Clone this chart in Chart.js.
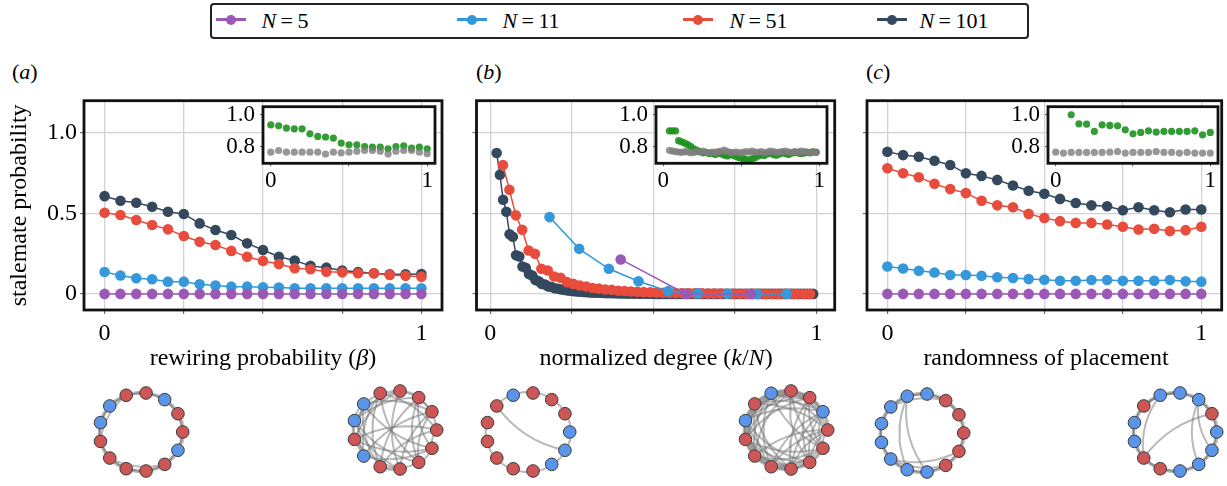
<!DOCTYPE html>
<html>
<head>
<meta charset="utf-8">
<script src="https://cdn.jsdelivr.net/npm/chart.js@4.4.0/dist/chart.umd.min.js"></script>
<style>
body{margin:0;width:1227px;height:486px;overflow:hidden;background:#fff;position:relative;font-family:'Liberation Serif','Times New Roman',serif}
canvas{position:absolute}
.txt{position:absolute;white-space:nowrap;line-height:1;color:#000}
#legend{position:absolute;left:210px;top:3px;width:815px;height:32px;border:2.5px solid #222;border-radius:4px}
</style>
</head>
<body>
<div id="legend"></div>

<div class="txt" style="left:12px;top:61px;font-size:22px">(<i>a</i>)</div>
<div class="txt" style="left:476px;top:61px;font-size:22px">(<i>b</i>)</div>
<div class="txt" style="left:866px;top:61px;font-size:22px">(<i>c</i>)</div>

<canvas id="mainA" width="450" height="285" style="left:0px;top:95px"></canvas>
<canvas id="mainB" width="400" height="285" style="left:440px;top:95px"></canvas>
<canvas id="mainC" width="397" height="285" style="left:830px;top:95px"></canvas>
<canvas id="insetA" width="225" height="95" style="left:215px;top:100px"></canvas>
<canvas id="insetB" width="225" height="95" style="left:608px;top:100px"></canvas>
<canvas id="insetC" width="225" height="95" style="left:1000px;top:100px"></canvas>

<div class="txt" style="left:263px;top:345px;font-size:24px;transform:translateX(-50%)">rewiring probability (<i>β</i>)</div>
<div class="txt" style="left:656px;top:345px;font-size:24px;transform:translateX(-50%)">normalized degree (<i>k</i>/<i>N</i>)</div>
<div class="txt" style="left:1046px;top:345px;font-size:24px;transform:translateX(-50%)">randomness of placement</div>

<canvas id="netAL" width="120" height="110" style="left:81px;top:377px"></canvas>
<canvas id="netAR" width="120" height="110" style="left:335px;top:375px"></canvas>
<canvas id="netBL" width="120" height="110" style="left:468px;top:377px"></canvas>
<canvas id="netBR" width="120" height="110" style="left:726px;top:375px"></canvas>
<canvas id="netCL" width="120" height="110" style="left:862px;top:378px"></canvas>
<canvas id="netCR" width="120" height="110" style="left:1115px;top:377px"></canvas>

<script>
// ---------------- data ----------------
const seriesLabels = ['5', '11', '51', '101'];
const seriesColors = ['#9b59b6', '#3498db', '#e74c3c', '#34495e'];
const insetColors = ['rgba(125,125,125,0.8)', 'rgba(30,145,30,0.9)'];  // gray, green

// (a) rewiring probability
const betaValues = [0, 0.05, 0.1, 0.15, 0.2, 0.25, 0.3, 0.35, 0.4, 0.45, 0.5,
                    0.55, 0.6, 0.65, 0.7, 0.75, 0.8, 0.85, 0.9, 0.95, 1];
const aN5 = [0, 0, 0, 0, 0, 0, 0, 0, 0, 0, 0, 0, 0, 0, 0, 0, 0, 0, 0, 0, 0];
const aN11 = [0.136, 0.114, 0.097, 0.091, 0.076, 0.076, 0.060, 0.052, 0.045, 0.045, 0.041,
              0.039, 0.035, 0.035, 0.035, 0.035, 0.035, 0.035, 0.035, 0.035, 0.035];
const aN51 = [0.504, 0.490, 0.459, 0.428, 0.401, 0.360, 0.324, 0.304, 0.267, 0.231, 0.205,
              0.186, 0.159, 0.153, 0.138, 0.134, 0.128, 0.128, 0.118, 0.112, 0.107];
const aN101 = [0.607, 0.579, 0.566, 0.541, 0.510, 0.496, 0.438, 0.397, 0.366, 0.314, 0.273,
               0.231, 0.207, 0.174, 0.163, 0.145, 0.136, 0.128, 0.122, 0.122, 0.124];
const aInsetGreen = [0.938, 0.932, 0.918, 0.913, 0.913, 0.882, 0.866, 0.862, 0.856, 0.825, 0.814,
                     0.814, 0.804, 0.800, 0.800, 0.790, 0.804, 0.808, 0.794, 0.800, 0.790];
const aInsetGray = [0.769, 0.779, 0.769, 0.769, 0.769, 0.769, 0.769, 0.757, 0.769, 0.765, 0.769,
                    0.775, 0.779, 0.779, 0.775, 0.757, 0.775, 0.779, 0.779, 0.769, 0.759];

// (b) degree k for each network size N
const degN5 = [2, 3, 4];
const bN5 = [0.214, 0, 0];
const degN11 = [2, 3, 4, 5, 6, 7, 8, 9, 10];
const bN11 = [0.477, 0.280, 0.156, 0.079, 0.017, 0.003, 0.001, 0, 0];
const degN51 = [2, 3, 4, 5, 6, 7, 8, 9, 10, 11, 12, 13, 14, 15, 16, 17, 18, 19, 20, 21,
                22, 23, 24, 25, 26, 27, 28, 29, 30, 31, 32, 33, 34, 35, 36, 37, 38, 39, 40, 41,
                42, 43, 44, 45, 46, 47, 48, 49, 50];
const bN51 = [0.800, 0.647, 0.488, 0.398, 0.270, 0.249, 0.156, 0.145, 0.108, 0.100,
              0.073, 0.062, 0.052, 0.046, 0.037, 0.033, 0.027, 0.025, 0.020, 0.018,
              0.015, 0.013, 0.011, 0.010, 0.008, 0.007, 0.006, 0.005, 0.004, 0.004,
              0.003, 0.003, 0.002, 0.002, 0.002, 0.001, 0.001, 0.001, 0.001, 0,
              0, 0, 0, 0, 0, 0, 0, 0, 0];
const degN101 = [2, 3, 4, 5, 6, 7, 8, 9, 10, 11, 12, 13, 14, 15, 16, 17, 18, 19, 20, 21,
                 22, 23, 24, 25, 26, 27, 28, 29, 30, 31, 32, 33, 34, 35, 36, 37, 38, 39, 40, 41,
                 42, 43, 44, 45, 46, 47, 48, 49, 50, 51, 52, 53, 54, 55, 56, 57, 58, 59, 60, 61,
                 62, 63, 64, 65, 66, 67, 68, 69, 70, 71, 72, 73, 74, 75, 76, 77, 78, 79, 80, 81,
                 82, 83, 84, 85, 86, 87, 88, 89, 90, 91, 92, 93, 94, 95, 96, 97, 98, 99, 100];
const bN101 = [0.875, 0.740, 0.585, 0.510, 0.370, 0.355, 0.240, 0.232, 0.170, 0.162,
               0.124, 0.114, 0.087, 0.079, 0.062, 0.058, 0.046, 0.043, 0.035, 0.032,
               0.027, 0.025, 0.021, 0.019, 0.016, 0.015, 0.013, 0.012, 0.010, 0.009,
               0.008, 0.007, 0.007, 0.006, 0.005, 0.005, 0.004, 0.004, 0.003, 0.003,
               0.003, 0.002, 0.002, 0.002, 0.002, 0.001, 0.001, 0.001, 0.001, 0,
               0, 0, 0, 0, 0, 0, 0, 0, 0, 0,
               0, 0, 0, 0, 0, 0, 0, 0, 0, 0,
               0, 0, 0, 0, 0, 0, 0, 0, 0, 0,
               0, 0, 0, 0, 0, 0, 0, 0, 0, 0,
               0, 0, 0, 0, 0, 0, 0, 0, 0];
const bInsetGreen = [0.900, 0.900, 0.900, 0.840, 0.832, 0.825, 0.815, 0.804, 0.790, 0.780,
                     0.772, 0.765, 0.768, 0.760, 0.762, 0.755, 0.765, 0.758, 0.750, 0.745,
                     0.755, 0.748, 0.740, 0.735, 0.730, 0.725, 0.720, 0.728, 0.735, 0.745,
                     0.752, 0.748, 0.758, 0.762, 0.755, 0.750, 0.758, 0.765, 0.760, 0.755,
                     0.762, 0.768, 0.765, 0.760, 0.762, 0.768, 0.765, 0.770, 0.768];
const bInsetGray = [0.780, 0.776, 0.772, 0.770, 0.768, 0.772, 0.770, 0.766, 0.768, 0.772,
                    0.770, 0.775, 0.768, 0.765, 0.770, 0.768, 0.772, 0.775, 0.782, 0.772,
                    0.766, 0.768, 0.770, 0.763, 0.768, 0.772, 0.770, 0.775, 0.770, 0.768,
                    0.772, 0.765, 0.770, 0.775, 0.772, 0.768, 0.770, 0.772, 0.775, 0.770,
                    0.768, 0.772, 0.770, 0.775, 0.772, 0.770, 0.768, 0.772, 0.770];

// (c) randomness of placement
const placementValues = [0, 0.05, 0.1, 0.15, 0.2, 0.25, 0.3, 0.35, 0.4, 0.45, 0.5,
                         0.55, 0.6, 0.65, 0.7, 0.75, 0.8, 0.85, 0.9, 0.95, 1];
const cN5 = [0, 0, 0, 0, 0, 0, 0, 0, 0, 0, 0, 0, 0, 0, 0, 0, 0, 0, 0, 0, 0];
const cN11 = [0.170, 0.158, 0.144, 0.133, 0.117, 0.117, 0.113, 0.103, 0.099, 0.092, 0.088,
              0.082, 0.082, 0.086, 0.086, 0.082, 0.082, 0.082, 0.086, 0.078, 0.076];
const cN51 = [0.780, 0.749, 0.725, 0.684, 0.651, 0.626, 0.579, 0.550, 0.538, 0.497, 0.472,
              0.452, 0.441, 0.441, 0.431, 0.417, 0.400, 0.404, 0.390, 0.396, 0.417];
const cN101 = [0.883, 0.862, 0.852, 0.827, 0.801, 0.749, 0.733, 0.708, 0.673, 0.641, 0.622,
               0.590, 0.565, 0.550, 0.544, 0.520, 0.538, 0.520, 0.507, 0.524, 0.524];
const cInsetGreen = [null, null, 1.000, 0.944, 0.942, 0.897, 0.938, 0.934, 0.932, 0.907, 0.882,
                     0.891, 0.901, 0.893, 0.897, 0.897, 0.897, 0.897, 0.901, 0.876, 0.891];
const cInsetGray = [0.769, 0.763, 0.767, 0.767, 0.767, 0.767, 0.767, 0.769, 0.773, 0.763, 0.767,
                    0.767, 0.767, 0.773, 0.767, 0.767, 0.763, 0.767, 0.763, 0.763, 0.763];

// ticks
const mainYTicks = [0, 0.5, 1.0];
const mainYLabels = ['0', '0.5', '1.0'];
const mainXTicks = [0, 0.25, 0.5, 0.75, 1];
const mainXLabels = ['0', '', '', '', '1'];
const insetYTicks = [0.8, 1.0];
const insetYLabels = ['0.8', '1.0'];
const insetXTicks = [0, 0.5, 1];
const insetXLabels = ['0', '', '1'];

// example networks (13 nodes on a circle, R = red, B = blue)
const nodeCount = 13;
const netColors = {
  netAL: 'RRBRRBBRRRRRB',
  netAR: 'RRRRRBBRBRRRR',
  netBL: 'BRRRBRRRRRRBB',
  netBR: 'RBRRBRBRRRRRR',
  netCL: 'RRRBBBBBBBBRR',
  netCR: 'BRBBBRBBRRBBB'
};
const netExtraEdges = {
  netAL: '4-7 8-11',
  netAR: '0-4 0-7 0-9 1-5 1-8 1-11 2-6 2-9 2-12 3-7 3-10 3-6 4-8 4-11 5-9 5-12 6-10 6-11 7-12 8-12 ' +
         '9-11 1-10 0-2 3-5 5-8 7-10 4-9 2-11 6-8 1-3 5-6 6-7 11-12 9-10 0-12 2-3',
  netBL: '0-1 1-2 2-3 3-4 4-5 6-7 7-8 8-9 9-10 10-11 11-12 12-0 5-12',
  netBR: '',
  netCL: '4-9 4-10 2-5 8-12 8-11',
  netCR: '1-8 4-8 2-11 2-12 3-5'
};
const netRingHalfDegree = { netAL: 2, netAR: 0, netBL: 0, netBR: 0, netCL: 2, netCR: 2 };
const netMissingEdges = { netBR: '0-6 1-7 2-8 3-9 4-10 5-11 6-12 0-7 1-8 2-9 3-10 4-11 5-12' };
const nodeFill = { R: '#cd5656', B: '#5a95ea' };

// ---------------- drawing ----------------
Chart.defaults.font.family = "'Liberation Serif', 'Times New Roman', serif";
Chart.defaults.color = '#000';

// legend
const legendMarkerX = [231, 472, 698, 892];
const legendTextX = [262, 503, 730, 920];
const legendEl = document.getElementById('legend');
seriesLabels.forEach((lab, i) => {
  const line = document.createElement('div');
  line.style.cssText = `position:absolute;left:${legendMarkerX[i] - 15 - 212.5}px;top:13px;width:30px;height:3px;background:${seriesColors[i]}`;
  const dot = document.createElement('div');
  dot.style.cssText = `position:absolute;left:${legendMarkerX[i] - 5 - 212.5}px;top:9.5px;width:10px;height:10px;border-radius:50%;background:${seriesColors[i]}`;
  const txt = document.createElement('div');
  txt.className = 'txt';
  txt.style.cssText = `left:${legendTextX[i] - 212.5}px;top:5px;font-size:22px`;
  txt.innerHTML = `<i>N</i>&thinsp;=&thinsp;${lab}`;
  legendEl.append(line, dot, txt);
});

const framePlugin = {
  id: 'frame',
  beforeDraw(chart, args, opts) {
    if (!opts.fill) return;
    const a = chart.chartArea, ctx = chart.ctx;
    ctx.save();
    ctx.fillStyle = '#fff';
    ctx.fillRect(a.left, a.top, a.width, a.height);
    ctx.restore();
  },
  afterDraw(chart) {
    const a = chart.chartArea, ctx = chart.ctx;
    ctx.save();
    ctx.strokeStyle = '#111';
    ctx.lineWidth = 2.8;
    ctx.strokeRect(a.left, a.top, a.width, a.height);
    ctx.restore();
  }
};

function pts(xs, ys) { return xs.map((x, i) => ({ x: x, y: ys[i] })); }
function degPts(ks, n, ys) { return ks.map((k, i) => ({ x: k / n, y: ys[i] })); }

function lineSet(data, color) {
  return { data, showLine: true, borderColor: color, borderWidth: 1.5,
           pointRadius: 5.3, pointBackgroundColor: color, pointBorderWidth: 0 };
}
function dotSet(data, color) {
  return { data, showLine: false, pointRadius: 3.6, pointBackgroundColor: color, pointBorderWidth: 0 };
}

function makePlot(id, c) {
  return new Chart(document.getElementById(id), {
    type: 'scatter',
    data: { datasets: c.datasets },
    options: {
      responsive: false, animation: false, devicePixelRatio: 1, events: [],
      layout: { padding: { left: 0, top: c.padTop, right: c.padRight, bottom: 0 } },
      plugins: { legend: { display: false }, tooltip: { enabled: false }, frame: { fill: c.fill } },
      scales: {
        x: {
          type: 'linear', min: c.xRange[0], max: c.xRange[1],
          afterBuildTicks: ax => { ax.ticks = c.xTicks.map(v => ({ value: v })); },
          afterFit: ax => { ax.height = c.xHeight; ax.paddingLeft = 0; ax.paddingRight = 0; },
          ticks: { autoSkip: false, maxRotation: 0, padding: c.xPad, font: { size: c.fs }, color: '#000',
                   callback: (v, i) => c.xLabels[i] },
          grid: { drawOnChartArea: c.grid, color: '#d2d2d2', lineWidth: 1.3,
                  tickLength: c.tl, tickColor: '#555', tickWidth: 1 },
          border: { display: false }
        },
        y: {
          type: 'linear', min: c.yRange[0], max: c.yRange[1],
          afterBuildTicks: ax => { ax.ticks = c.yTicks.map(v => ({ value: v })); },
          afterFit: ax => { ax.width = c.yWidth; ax.paddingTop = 0; ax.paddingBottom = 0; },
          ticks: { autoSkip: false, padding: c.yPad, font: { size: c.fs }, color: '#000',
                   callback: (v, i) => c.yLabels[i] },
          grid: { drawOnChartArea: c.grid, color: '#d2d2d2', lineWidth: 1.3,
                  tickLength: c.tl, tickColor: '#555', tickWidth: 1 },
          border: { display: false },
          title: c.yTitle ? { display: true, text: c.yTitle, font: { size: 24 }, color: '#000',
                              padding: { top: 5.6, bottom: 0 } } : { display: false }
        }
      }
    },
    plugins: [framePlugin]
  });
}

const mainBase = { padTop: 5.7, xHeight: 70, xRange: [-0.065, 1.065], yRange: [-0.1, 1.2],
                   xTicks: mainXTicks, xLabels: mainXLabels, yTicks: mainYTicks, fs: 24,
                   tl: 4, xPad: 5.5, yPad: 3, grid: true, fill: false };
const insetBase = { padTop: 6.7, xHeight: 31.7, xRange: [-0.05, 1.05], yRange: [0.70, 1.05],
                    xTicks: insetXTicks, xLabels: insetXLabels, yTicks: insetYTicks, yLabels: insetYLabels,
                    fs: 23, tl: 3, xPad: 0.5, yPad: 5, yWidth: 48, grid: false, fill: true };

makePlot('mainA', Object.assign({}, mainBase, {
  yWidth: 84, padRight: 8, yLabels: mainYLabels, yTitle: 'stalemate probability',
  datasets: [lineSet(pts(betaValues, aN5), seriesColors[0]), lineSet(pts(betaValues, aN11), seriesColors[1]),
             lineSet(pts(betaValues, aN51), seriesColors[2]), lineSet(pts(betaValues, aN101), seriesColors[3])]
}));
makePlot('mainB', Object.assign({}, mainBase, {
  yWidth: 36.5, padRight: 5, xRange: [-0.042, 1.056], yLabels: ['', '', ''],
  datasets: [lineSet(degPts(degN5, 5, bN5), seriesColors[0]), lineSet(degPts(degN11, 11, bN11), seriesColors[1]),
             lineSet(degPts(degN51, 51, bN51), seriesColors[2]), lineSet(degPts(degN101, 101, bN101), seriesColors[3])]
}));
makePlot('mainC', Object.assign({}, mainBase, {
  yWidth: 37, padRight: 2, yLabels: ['', '', ''],
  datasets: [lineSet(pts(placementValues, cN5), seriesColors[0]), lineSet(pts(placementValues, cN11), seriesColors[1]),
             lineSet(pts(placementValues, cN51), seriesColors[2]), lineSet(pts(placementValues, cN101), seriesColors[3])]
}));

makePlot('insetA', Object.assign({}, insetBase, {
  padRight: 5,
  datasets: [dotSet(pts(betaValues, aInsetGray), insetColors[0]), dotSet(pts(betaValues, aInsetGreen), insetColors[1])]
}));
makePlot('insetB', Object.assign({}, insetBase, {
  padRight: 6, xRange: [-0.047, 1.05],
  datasets: [dotSet(degPts(degN51, 51, bInsetGray), insetColors[0]), dotSet(degPts(degN51, 51, bInsetGreen), insetColors[1])]
}));
makePlot('insetC', Object.assign({}, insetBase, {
  padRight: 7,
  datasets: [dotSet(pts(placementValues, cInsetGray), insetColors[0]), dotSet(pts(placementValues, cInsetGreen), insetColors[1])]
}));

// networks
function parseEdges(s) {
  return s.trim() ? s.trim().split(/\s+/).map(e => e.split('-').map(Number)) : [];
}
function ringEdges(n, half) {
  const out = [];
  for (let i = 0; i < n; i++) for (let d = 1; d <= half; d++) out.push([i, (i + d) % n]);
  return out;
}
function allPairsExcept(n, missing) {
  const skip = new Set(missing.map(([p, q]) => Math.min(p, q) + '-' + Math.max(p, q)));
  const out = [];
  for (let i = 0; i < n; i++) for (let j = i + 1; j < n; j++) if (!skip.has(i + '-' + j)) out.push([i, j]);
  return out;
}
function arcPoints(p, q, bend) {
  const mx = (p.x + q.x) / 2, my = (p.y + q.y) / 2;
  const cx = mx + bend * (q.y - p.y), cy = my - bend * (q.x - p.x);
  const out = [];
  for (let s = 0; s <= 8; s++) {
    const t = s / 8, u = 1 - t;
    out.push({ x: u * u * p.x + 2 * u * t * cx + t * t * q.x, y: u * u * p.y + 2 * u * t * cy + t * t * q.y });
  }
  return out;
}

Object.keys(netColors).forEach(id => {
  const colors = netColors[id].split('');
  const nodes = colors.map((c, i) => ({ x: Math.cos(2 * Math.PI * i / nodeCount), y: Math.sin(2 * Math.PI * i / nodeCount) }));
  let edges = ringEdges(nodeCount, netRingHalfDegree[id]).concat(parseEdges(netExtraEdges[id]));
  if (netMissingEdges[id]) edges = allPairsExcept(nodeCount, parseEdges(netMissingEdges[id]));
  const datasets = [{
    data: nodes, showLine: false, pointRadius: 6.3,
    pointBackgroundColor: colors.map(c => nodeFill[c]), pointBorderColor: '#3a3a3a', pointBorderWidth: 1
  }];
  edges.forEach(([p, q]) => datasets.push({
    data: arcPoints(nodes[p], nodes[q], 0.2), showLine: true, pointRadius: 0,
    borderColor: 'rgba(115,115,115,0.5)', borderWidth: 2
  }));
  new Chart(document.getElementById(id), {
    type: 'scatter',
    data: { datasets },
    options: {
      responsive: false, animation: false, devicePixelRatio: 1, events: [],
      layout: { padding: 0 },
      plugins: { legend: { display: false }, tooltip: { enabled: false } },
      scales: {
        x: { display: false, min: -1.263, max: 1.263 },
        y: { display: false, min: -1.214, max: 1.214 }
      }
    }
  });
});
</script>
</body>
</html>
